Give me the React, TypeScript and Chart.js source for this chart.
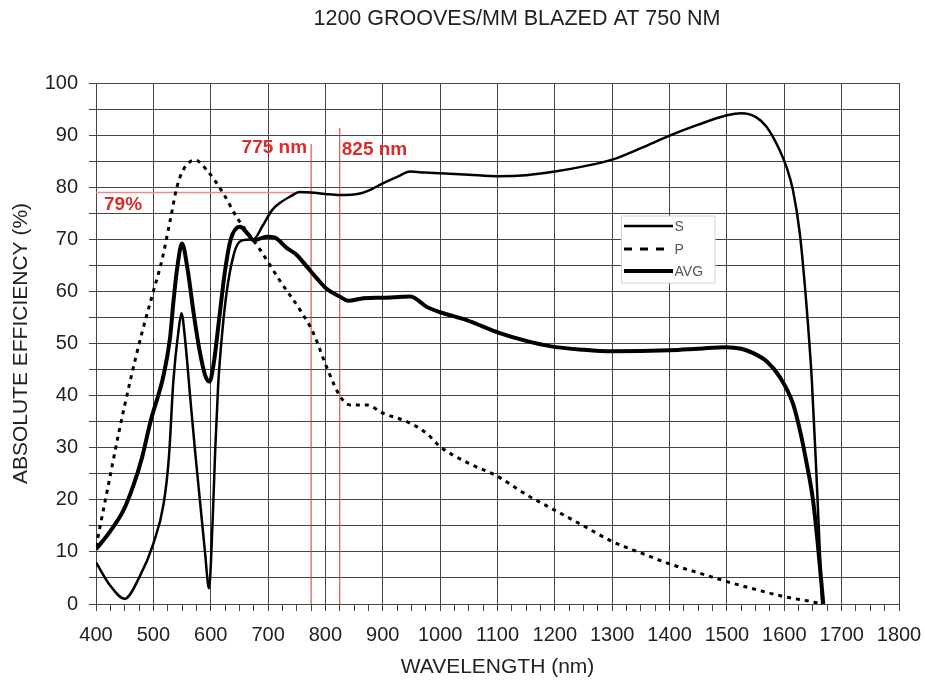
import React, { useEffect, useRef } from "react";
import { Chart, registerables } from "chart.js";

Chart.register(...registerables);

const chartTitle = "1200 GROOVES/MM BLAZED AT 750 NM";
const xTitle = "WAVELENGTH (nm)";
const yTitle = "ABSOLUTE EFFICIENCY (%)";

const sWavelength = [400, 425, 450, 475, 500, 518, 527, 535, 544, 549, 556, 564, 573, 582, 590, 597, 603, 608, 613, 620, 628, 640, 650, 662, 675, 690, 707, 721, 740, 755, 775, 800, 825, 860, 880, 901, 925, 948, 975, 1000, 1050, 1100, 1150, 1200, 1250, 1300, 1350, 1400, 1450, 1500, 1525, 1550, 1569, 1592, 1605, 1615, 1627, 1638, 1648, 1656, 1662, 1666];
const sEfficiency = [8, 3.5, 1, 5, 11.6, 19.3, 28, 43, 52.6, 55.8, 50, 40, 29, 19, 10, 3, 15, 30, 42, 52, 60, 67, 69.5, 69.9, 70, 72.5, 75.6, 77, 78.3, 79.1, 79, 78.7, 78.5, 78.8, 79.6, 80.8, 82, 83, 82.8, 82.7, 82.4, 82.1, 82.3, 83, 84, 85.3, 87.5, 89.9, 92, 93.8, 94.2, 93.5, 91.6, 87.1, 83.5, 79.5, 71.2, 58.3, 43, 25, 10, 0];

const pWavelength = [400, 420, 440, 460, 480, 500, 515, 530, 541, 553, 573, 593, 622, 645, 686, 721, 756, 779, 802, 826, 843, 872, 901, 942, 976, 1000, 1050, 1100, 1150, 1200, 1250, 1300, 1350, 1400, 1450, 1500, 1550, 1600, 1650, 1665];
const pEfficiency = [11, 22, 33, 43, 52, 60, 66, 74, 80, 83.5, 85.2, 83.3, 78.8, 74.3, 68, 62, 56.4, 52, 45.5, 39.8, 38.2, 38.2, 36.6, 35, 32.8, 30.2, 27, 24.5, 21, 18, 15, 12, 9.8, 7.7, 6, 4.3, 2.8, 1.4, 0.4, 0];

const avgWavelength = [400, 425, 448, 466, 480, 495, 518, 529, 535, 541, 550, 560, 570, 580, 590, 598, 605, 615, 625, 635, 651, 665, 675, 698, 712, 733, 750, 768, 785, 802, 825, 840, 866, 900, 948, 977, 1000, 1046, 1104, 1150, 1191, 1250, 1300, 1400, 1450, 1499, 1525, 1545, 1570, 1592, 1615, 1628, 1639, 1650, 1658, 1668];
const avgEfficiency = [10.5, 14, 18, 23, 28, 35, 44, 51, 58, 64, 69.2, 64, 56, 49, 44, 42.7, 46, 55, 64, 70, 72.4, 71, 69.8, 70.5, 70.3, 68.3, 67, 64.7, 62.5, 60.5, 59, 58.2, 58.7, 58.8, 59, 57, 56, 54.5, 52, 50.5, 49.5, 48.8, 48.5, 48.7, 49, 49.3, 49, 48.2, 46.5, 43.6, 38.5, 33, 27, 20, 12, 0];

const seriesNames = ["S", "P", "AVG"];

const markerWavelengths = [775, 825];
const markerTops = [88.3, 91.4];
const markerLabels = ["775 nm", "825 nm"];
const levelValue = 79;
const levelLabel = "79%";

const FONT = "'Liberation Sans', Arial, Helvetica, sans-serif";
const INK = "#222222";
const GRID = "#444444";
const RED_TEXT = "#dd2a2a";

export default function App() {
  const ref = useRef<HTMLCanvasElement | null>(null);

  useEffect(() => {
    if (!ref.current) return;
    const pts = (xs: number[], ys: number[]) => xs.map((x, i) => ({ x, y: ys[i] }));

    const overlay = {
      id: "overlay",
      afterDatasetsDraw(chart: any) {
        const { ctx, chartArea, scales } = chart;
        const xs = scales.x;
        const ys = scales.y;
        ctx.save();
        // red labels
        ctx.fillStyle = RED_TEXT;
        ctx.font = `bold 19px ${FONT}`;
        ctx.textBaseline = "middle";
        const ly = ys.getPixelForValue(87.5);
        ctx.textAlign = "right";
        ctx.fillText(markerLabels[0], xs.getPixelForValue(markerWavelengths[0]) - 4, ly);
        ctx.textAlign = "left";
        ctx.fillText(markerLabels[1], xs.getPixelForValue(markerWavelengths[1]) + 2, ly + 2);
        ctx.fillText(levelLabel, chartArea.left + 8, ys.getPixelForValue(levelValue) + 12);

        // legend
        const lx = 621.5, ltop = 216, lw = 93.5, lh = 67;
        ctx.fillStyle = "#ffffff";
        ctx.fillRect(lx, ltop, lw, lh);
        ctx.strokeStyle = "#d4d4d4";
        ctx.lineWidth = 1;
        ctx.strokeRect(lx, ltop, lw, lh);
        const rows = [
          { y: 226, w: 2.5, dash: [] as number[], end: 673 },
          { y: 249, w: 3, dash: [8, 8], end: 668 },
          { y: 271, w: 4, dash: [] as number[], end: 673 },
        ];
        rows.forEach((r, i) => {
          ctx.beginPath();
          ctx.setLineDash(r.dash);
          ctx.strokeStyle = "#000";
          ctx.lineWidth = r.w;
          ctx.moveTo(624, r.y);
          ctx.lineTo(r.end, r.y);
          ctx.stroke();
          ctx.setLineDash([]);
          ctx.fillStyle = "#555";
          ctx.font = `14px ${FONT}`;
          ctx.textAlign = "left";
          ctx.textBaseline = "middle";
          ctx.fillText(seriesNames[i], 674.5, r.y + 1);
        });

        // title
        ctx.fillStyle = INK;
        ctx.font = `21.5px ${FONT}`;
        ctx.textAlign = "center";
        ctx.textBaseline = "middle";
        ctx.fillText(chartTitle, 517, 19);
        ctx.restore();
      },
    };

    const chart = new Chart(ref.current, {
      type: "line",
      data: {
        datasets: [
          {
            label: seriesNames[0],
            data: pts(sWavelength, sEfficiency),
            borderColor: "#000",
            borderWidth: 2.5,
            pointRadius: 0,
            cubicInterpolationMode: "monotone",
            fill: false,
            order: 1,
          },
          {
            label: seriesNames[1],
            data: pts(pWavelength, pEfficiency),
            borderColor: "#000",
            borderWidth: 3,
            borderDash: [4, 5],
            pointRadius: 0,
            cubicInterpolationMode: "monotone",
            fill: false,
            order: 1,
          },
          {
            label: seriesNames[2],
            data: pts(avgWavelength, avgEfficiency),
            borderColor: "#000",
            borderWidth: 4,
            pointRadius: 0,
            cubicInterpolationMode: "monotone",
            fill: false,
            order: 1,
          },
          {
            label: "level",
            data: [
              { x: 400, y: levelValue },
              { x: markerWavelengths[0], y: levelValue },
            ],
            borderColor: "#ee8a8a",
            borderWidth: 1.5,
            pointRadius: 0,
            tension: 0,
            fill: false,
            order: 5,
          },
          ...markerWavelengths.map((w, i) => ({
            label: markerLabels[i],
            data: [
              { x: w, y: 0 },
              { x: w, y: markerTops[i] },
            ],
            borderColor: "#cc3333",
            borderWidth: 1,
            pointRadius: 0,
            tension: 0,
            fill: false,
            order: 5,
          })),
        ],
      },
      options: {
        responsive: false,
        animation: false,
        layout: { padding: { top: 83, right: 26, bottom: 0, left: 0 } },
        plugins: {
          legend: { display: false },
          title: { display: false },
          tooltip: { enabled: false },
        },
        scales: {
          x: {
            type: "linear",
            min: 400,
            max: 1800,
            afterFit: (s: any) => {
              s.height = 80;
              s.paddingLeft = 0;
              s.paddingRight = 0;
            },
            ticks: {
              stepSize: 25,
              autoSkip: false,
              maxRotation: 0,
              padding: 12,
              color: INK,
              font: { family: FONT, size: 20 },
              callback: (v: any) => (Number(v) % 100 === 0 ? String(v) : ""),
            },
            grid: {
              color: (c: any) => (c.tick && c.tick.value % 100 === 0 ? GRID : "rgba(0,0,0,0)"),
              tickColor: GRID,
              tickLength: 7,
              lineWidth: 1,
            },
            border: { color: GRID },
            title: {
              display: true,
              text: xTitle,
              color: INK,
              font: { family: FONT, size: 21 },
              padding: { top: 0, bottom: 4 },
            },
          },
          y: {
            min: 0,
            max: 100,
            afterFit: (s: any) => {
              s.width = 96;
              s.paddingTop = 0;
              s.paddingBottom = 0;
            },
            ticks: {
              stepSize: 5,
              autoSkip: false,
              padding: 11,
              color: INK,
              font: { family: FONT, size: 20 },
              callback: (v: any) => (Number(v) % 10 === 0 ? String(v) : ""),
            },
            grid: {
              color: GRID,
              tickColor: GRID,
              tickLength: 7,
              lineWidth: 1,
            },
            border: { color: GRID },
            title: {
              display: true,
              text: yTitle,
              color: INK,
              font: { family: FONT, size: 21 },
              padding: { top: 9, bottom: 0 },
            },
          },
        },
      },
      plugins: [overlay],
    } as any);

    return () => chart.destroy();
  }, []);

  return (
    <div style={{ position: "fixed", left: 0, top: 0, width: 925, height: 684, background: "#fff" }}>
      <canvas ref={ref} width={925} height={684} style={{ display: "block" }} />
    </div>
  );
}
